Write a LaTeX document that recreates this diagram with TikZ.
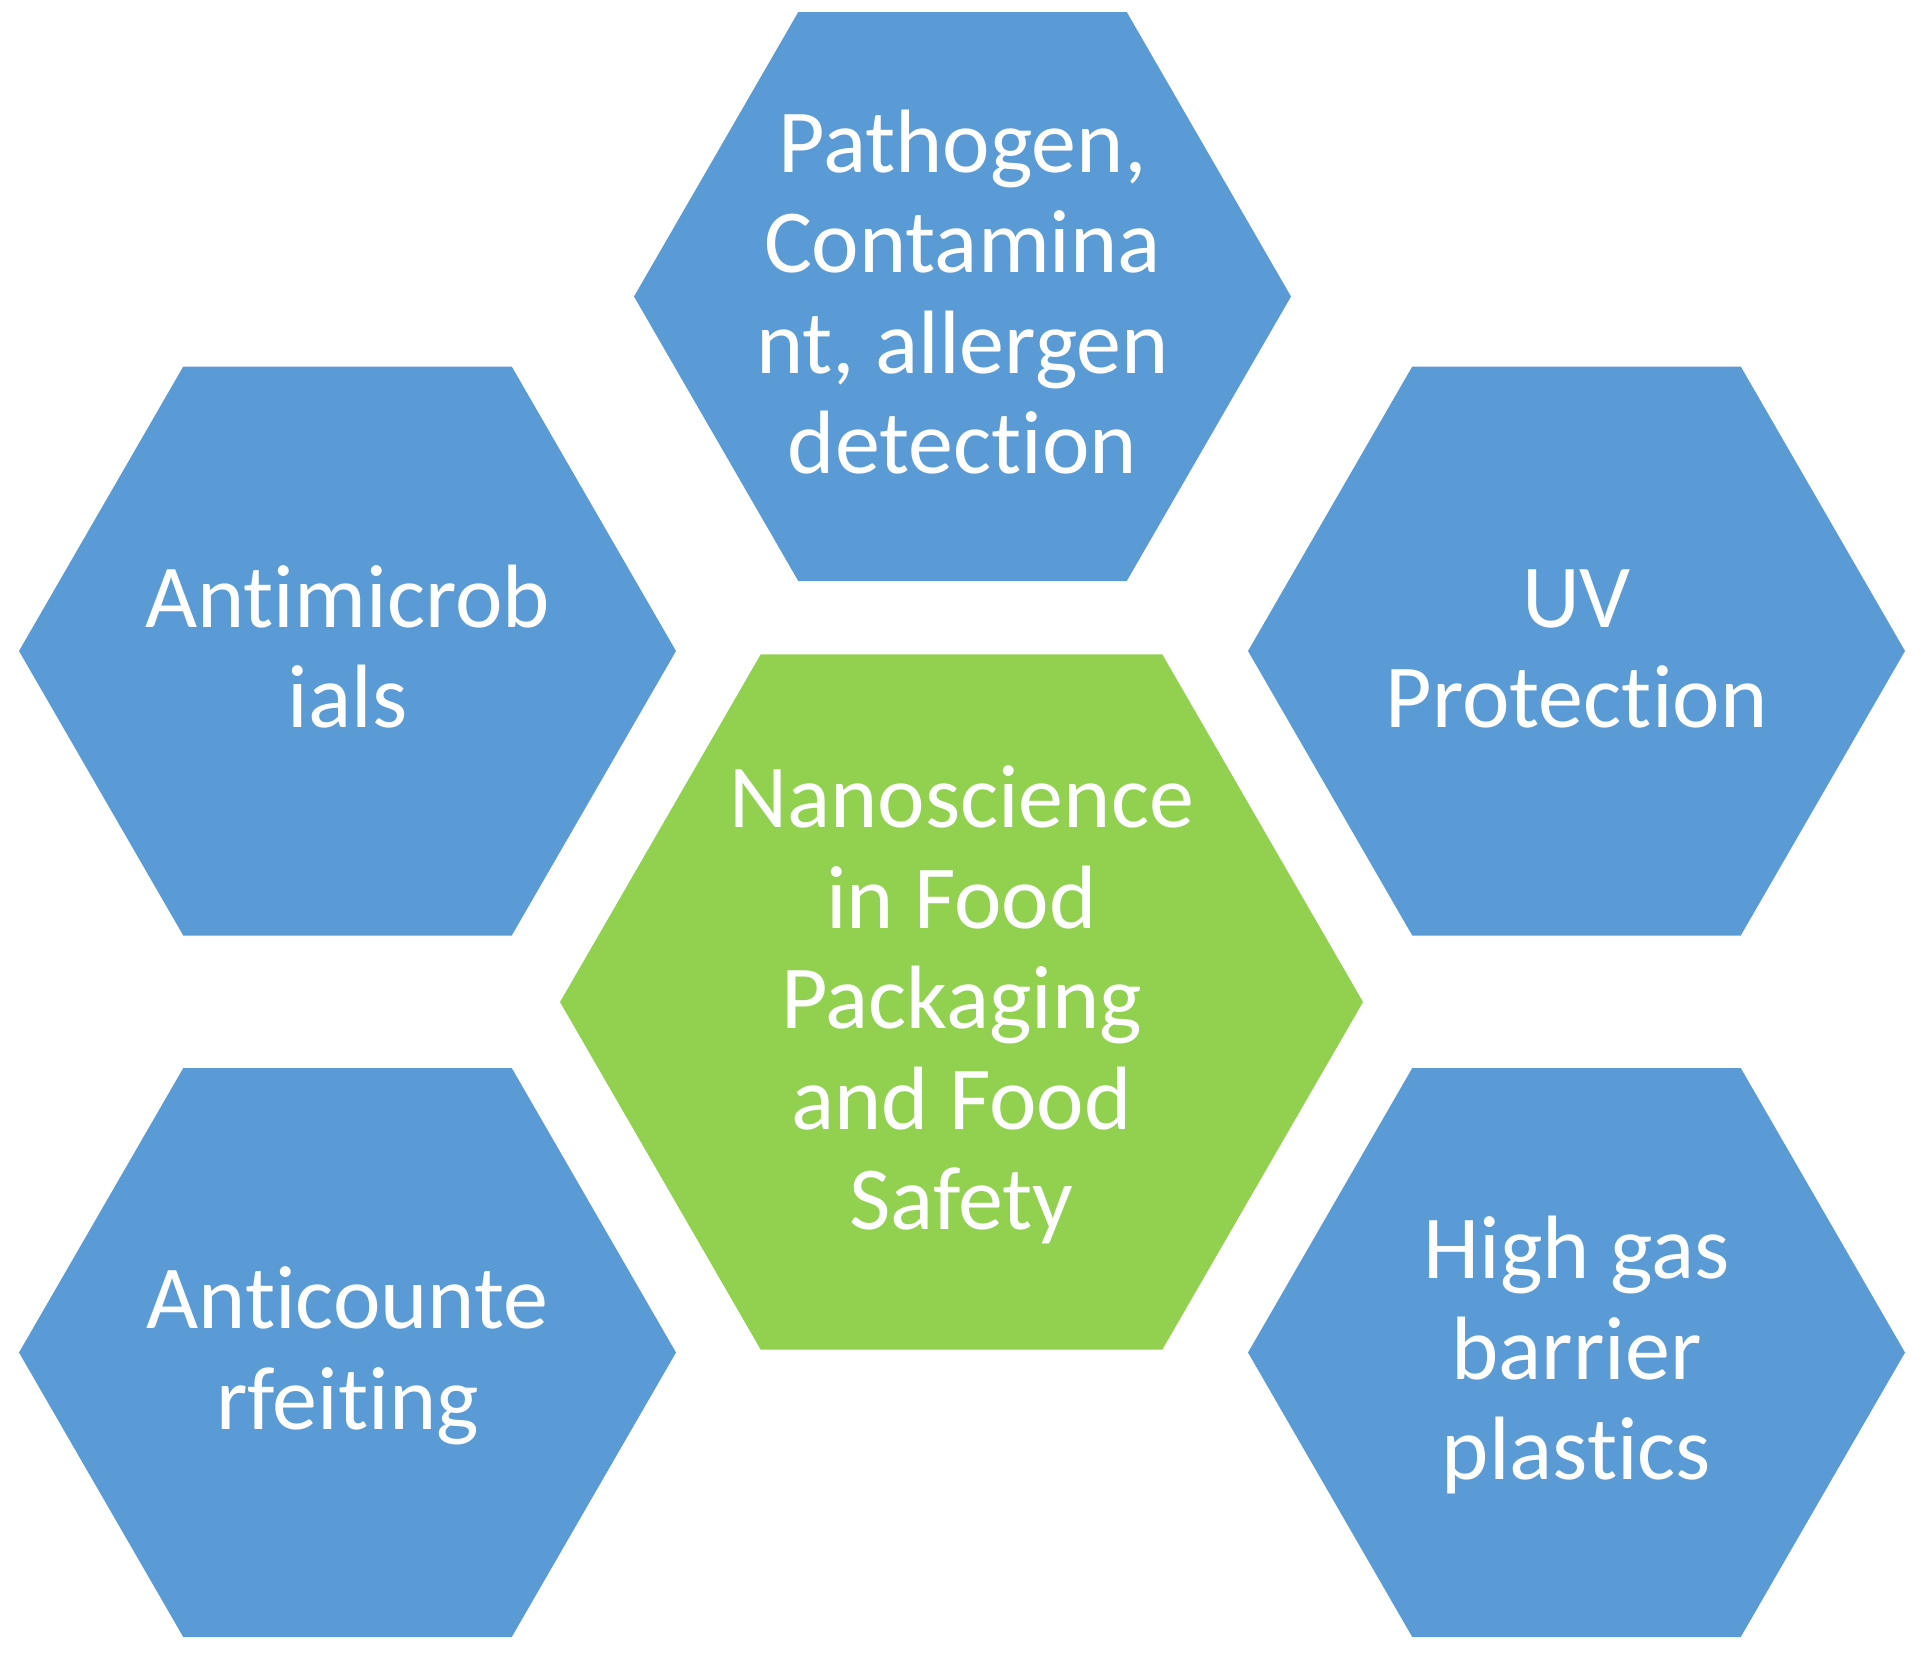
\documentclass[tikz,border=0pt]{standalone}
\usepackage{fontspec}
\setmainfont{Carlito}[Ligatures={NoCommon,NoContextual}]
\usetikzlibrary{shapes.geometric}
\definecolor{hexblue}{RGB}{91,155,213}
\definecolor{hexgreen}{RGB}{146,208,80}
\begin{document}
\begin{tikzpicture}[x=0.5pt,y=-0.5pt,
  hexshape/.style={regular polygon, regular polygon sides=6, inner sep=0pt, outer sep=0pt, draw=none},
  smallhex/.style={hexshape, fill=hexblue, minimum size=328.5pt},
  bighex/.style={hexshape, fill=hexgreen, minimum size=401.5pt},
  hextext/.style={inner sep=0pt, align=center, text=white, font=\fontsize{45}{50.25}\selectfont}]
\useasboundingbox (0,0) rectangle (1925,1656);
% hexagons
\node[smallhex] (top) at (962.5,296.5) {};
\node[smallhex] (ul) at (347.5,651) {};
\node[smallhex] (ur) at (1576.5,651) {};
\node[smallhex] (ll) at (347.5,1352.5) {};
\node[smallhex] (lr) at (1576.5,1352.5) {};
\node[bighex] (ctr) at (961.5,1002) {};
% texts
\node[hextext] (top-t) at (962.5,303) {\strut Pathogen,\\\strut Contamina\\\strut nt, allergen\\\strut detection};
\node[hextext] (ul-t) at (347.5,657.5) {\strut Antimicrob\\\strut ials};
\node[hextext] (ur-t) at (1576.5,657.5) {\strut UV\\\strut Protection};
\node[hextext] (ll-t) at (347.5,1359) {\strut Anticounte\\\strut rfeiting};
\node[hextext] (lr-t) at (1576.5,1359) {\strut High gas\\\strut barrier\\\strut plastics};
\node[hextext] (ctr-t) at (961.5,1008.5) {\strut Nanoscience\\\strut in Food\\\strut Packaging\\\strut and Food\\\strut Safety};
\end{tikzpicture}
\end{document}
